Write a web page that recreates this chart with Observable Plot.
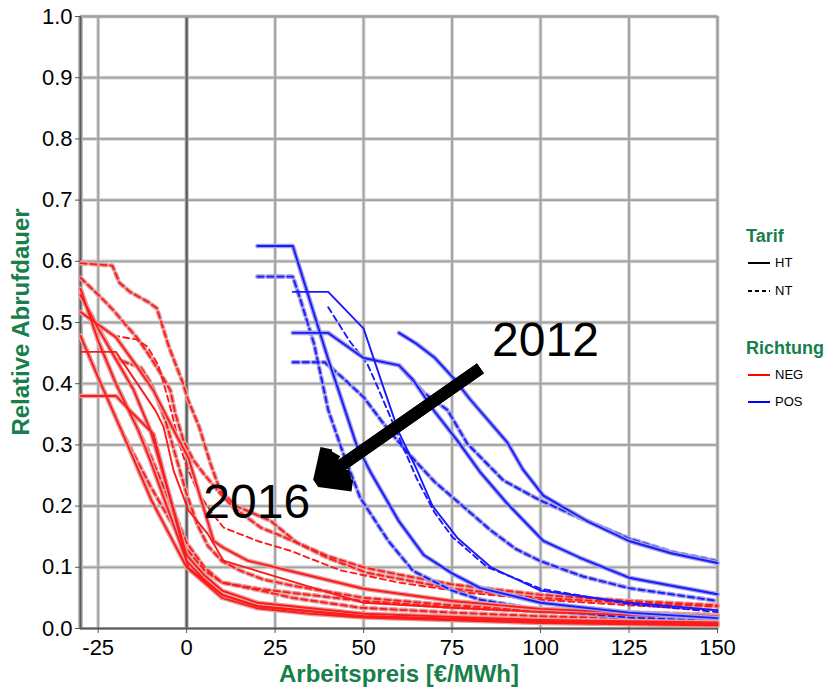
<!DOCTYPE html>
<html><head><meta charset="utf-8">
<script src="https://cdn.jsdelivr.net/npm/d3@7"></script>
<script src="https://cdn.jsdelivr.net/npm/@observablehq/plot@0.6"></script>
<style>
body{margin:0;background:#fff;font-family:"Liberation Sans",Arial,sans-serif;}
#wrap{position:relative;width:829px;height:687px;overflow:hidden;}
.ylab{position:absolute;left:21px;top:322px;transform:translate(-50%,-50%) rotate(-90deg);color:#17804a;font-weight:bold;font-size:24px;white-space:nowrap;}
.xlab{position:absolute;left:399px;top:674px;transform:translate(-50%,-50%);color:#17804a;font-weight:bold;font-size:24px;white-space:nowrap;}
.lg{position:absolute;white-space:nowrap;}
.lgt{color:#17804a;font-weight:bold;font-size:18px;}
.lgi{font-size:13px;color:#000;display:flex;align-items:center;}
.lgi svg{margin-right:5px;}
</style>
</head><body>
<div id="wrap"></div>
<script>
// ---------- tick labels ----------
const xTicks = [-25, 0, 25, 50, 75, 100, 125, 150];
const yTicks = [0, 0.1, 0.2, 0.3, 0.4, 0.5, 0.6, 0.7, 0.8, 0.9, 1.0];

// ---------- POS (blue) series: [Arbeitspreis, relative Abrufdauer] ----------
const posHT_a = [[20,.625],[30,.625],[40,.44],[48,.30],[52,.255],[60,.175],[67,.12],[75,.09],[83,.066],[100,.042],[125,.026],[150,.017]];
const posNT_a = [[20,.575],[30,.575],[32,.54],[36,.465],[40,.357],[44,.29],[49,.214],[57,.143],[64,.094],[75,.062],[83,.047],[100,.03],[125,.018],[150,.012]];
const posHT_b = [[30,.55],[40,.55],[50,.49],[55.6,.394],[60,.32],[65,.26],[69.5,.20],[76.5,.148],[86,.10],[100,.062],[125,.042],[150,.03]];
const posNT_b = [[40,.525],[46,.47],[51,.433],[54,.394],[57.6,.345],[60.4,.307],[65,.245],[70,.19],[75,.15],[85,.10],[100,.065],[125,.04],[150,.027]];
const posHT_c = [[30,.483],[40,.483],[50,.442],[60,.43],[64,.406],[70,.355],[76.5,.307],[83,.255],[90.6,.204],[100.8,.143],[111,.116],[125,.083],[150,.056]];
const posNT_c = [[30,.435],[39,.435],[44,.41],[50,.378],[55.6,.335],[62,.29],[70,.24],[78,.20],[86,.16],[93,.13],[100,.11],[112,.085],[125,.066],[150,.045]];
const posHT_d = [[60,.483],[65,.465],[70,.443],[75.4,.409],[80,.375],[90.6,.304],[95,.26],[100.8,.217],[113,.176],[125,.143],[137,.123],[150,.107]];
const posNT_d = [[60,.43],[62,.417],[67,.385],[73.7,.357],[79.3,.302],[89.5,.242],[100,.209],[111,.181],[125,.147],[137,.125],[150,.11]];

// ---------- NEG (red) series ----------
const negHT_a = [[-30,.478],[-25,.41],[-18.4,.323],[-10,.21],[-5,.155],[0,.10],[5,.075],[10,.05],[20,.033],[35,.024],[50,.018],[100,.009],[150,.005]];
const negHT_b = [[-30,.555],[-25,.47],[-20,.40],[-13.6,.323],[-10,.27],[-5,.19],[0,.11],[5,.08],[10,.055],[20,.036],[50,.02],[100,.012],[150,.008]];
const negHT_c = [[-30,.545],[-25,.49],[-20,.44],[-15,.39],[-10.2,.323],[-5,.22],[0,.12],[5,.087],[10,.062],[20,.042],[50,.024],[100,.014],[150,.01]];
const negHT_d = [[-30,.38],[-20,.38],[-15,.35],[-9.4,.318],[-5,.22],[0.5,.099],[5,.078],[10,.055],[20,.037],[50,.02],[100,.011],[150,.007]];
const negHT_e = [[-30,.452],[-20,.452],[-8.8,.356],[-6.5,.329],[-3.7,.258],[0.5,.193],[5.9,.155],[10.4,.111],[24.5,.086],[50,.042],[75,.034],[100,.027],[150,.017]];
const negHT_f = [[-30,.517],[-20,.476],[-13.9,.427],[-9.4,.389],[-2.6,.312],[0.5,.279],[7.6,.143],[10.4,.132],[17.2,.111],[29.3,.094],[50,.065],[75,.045],[100,.032],[150,.02]];
const negNT_a = [[-30,.597],[-21,.593],[-19,.565],[-16,.55],[-11,.534],[-8.4,.523],[-5,.46],[-1,.40],[0.3,.375],[3.5,.33],[6.7,.27],[9.5,.225],[14,.2],[23.7,.176],[31.2,.14],[40,.115],[51,.091],[75,.065],[100,.05],[125,.042],[150,.036]];
const negNT_b = [[-30,.573],[-24.4,.542],[-20.7,.52],[-17.8,.50],[-14,.475],[-11,.45],[-7.4,.417],[-4.6,.389],[-3.2,.351],[-0.9,.307],[1.9,.275],[4.8,.253],[9.6,.22],[13.2,.198],[20.9,.165],[29.3,.145],[40,.118],[50,.10],[60,.088],[75,.072],[100,.055],[125,.045],[150,.038]];
const negNT_c = [[-30,.517],[-20,.478],[-14,.472],[-11,.46],[-8,.43],[-5,.37],[-2,.30],[0,.265],[3,.225],[7,.19],[10.4,.165],[20,.143],[29.3,.127],[43.5,.095],[60,.075],[80,.058],[100,.047],[125,.038],[150,.03]];
const negNT_d = [[-30,.545],[-20,.44],[-13,.427],[-10,.40],[-6,.34],[-3,.28],[0,.22],[3,.17],[6,.135],[10,.11],[15,.095],[21.7,.08],[30,.07],[50,.05],[75,.038],[100,.03],[125,.026],[150,.022]];
const negNT_e = [[-30,.555],[-25,.47],[-20,.40],[-13.6,.323],[-10,.28],[-5,.21],[0,.14],[5,.10],[10,.075],[21.7,.061],[30,.05],[49,.034],[75,.026],[100,.02],[150,.013]];
const negNT_f = [[-30,.478],[-25,.41],[-18.4,.323],[-10,.23],[-5,.18],[0,.13],[5,.095],[10,.075],[20,.065],[30,.058],[50,.045],[75,.035],[100,.028],[150,.022]];

// ---------- annotations ----------
const annotLabels = ["2012", "2016"];
const annotX = [101.4, 19.8];
const annotY = [0.471, 0.206];
const arrowFrom = [83.0, 0.425];
const arrowTo = [37.4, 0.241];

// ---------- build table ----------
const seriesList = [
  ["posHT_a", "HT", "POS", posHT_a, true], ["posNT_a", "NT", "POS", posNT_a, true],
  ["posHT_b", "HT", "POS", posHT_b, false], ["posNT_b", "NT", "POS", posNT_b, false],
  ["posHT_c", "HT", "POS", posHT_c, true], ["posNT_c", "NT", "POS", posNT_c, true],
  ["posHT_d", "HT", "POS", posHT_d, true], ["posNT_d", "NT", "POS", posNT_d, true],
  ["negHT_a", "HT", "NEG", negHT_a, true], ["negHT_b", "HT", "NEG", negHT_b, true],
  ["negHT_c", "HT", "NEG", negHT_c, true], ["negHT_d", "HT", "NEG", negHT_d, true],
  ["negHT_e", "HT", "NEG", negHT_e, false], ["negHT_f", "HT", "NEG", negHT_f, true],
  ["negNT_a", "NT", "NEG", negNT_a, true], ["negNT_b", "NT", "NEG", negNT_b, true],
  ["negNT_c", "NT", "NEG", negNT_c, false], ["negNT_d", "NT", "NEG", negNT_d, true],
  ["negNT_e", "NT", "NEG", negNT_e, true], ["negNT_f", "NT", "NEG", negNT_f, true]
];
const rows = seriesList.flatMap(([id, tarif, richtung, pts, halo]) =>
  pts.map(([x, y]) => ({id, tarif, richtung, halo, x, y})));

const COL = {NEG: "#ff1a1a", POS: "#1a1aff"};
const HALO = {NEG: "#e3a0a0", POS: "#a0a0e3"};
const DASH = {HT: null, NT: "6,4"};

const lineMarks = [];
for (const tarif of ["NT", "HT"]) {
  for (const richtung of ["NEG", "POS"]) {
    const sub = rows.filter(r => r.tarif === tarif && r.richtung === richtung);
    const haloSub = sub.filter(r => r.halo);
    lineMarks.push(Plot.line(haloSub, {x: "x", y: "y", z: "id", stroke: HALO[richtung], strokeWidth: 4.6, strokeDasharray: DASH[tarif], strokeLinejoin: "round"}));
    lineMarks.push(Plot.line(sub, {x: "x", y: "y", z: "id", stroke: COL[richtung], strokeWidth: 1.9, strokeDasharray: DASH[tarif], strokeLinejoin: "round"}));
  }
}

const gridX = xTicks.filter(d => d !== 0);
const gridY = yTicks.filter(d => d > 0);
const annot = annotLabels.map((t, i) => ({t, x: annotX[i], y: annotY[i]}));
const arrowRow = [{x1: arrowFrom[0], y1: arrowFrom[1], x2: arrowTo[0], y2: arrowTo[1]}];
const arrowOpts = {x1: "x1", y1: "y1", x2: "x2", y2: "y2", stroke: "#000", strokeLinecap: "butt", strokeLinejoin: "miter"};

const chart = Plot.plot({
  width: 829, height: 687,
  marginLeft: 80, marginRight: 112, marginTop: 16, marginBottom: 59,
  x: {domain: [-30, 150]},
  y: {domain: [0, 1]},
  style: {fontFamily: "'Liberation Sans', Arial, sans-serif", fontSize: "22px", color: "#000", background: "#fff"},
  marks: [
    Plot.ruleX(gridX, {stroke: "#dcdcdc", strokeWidth: 4}),
    Plot.ruleY(gridY, {stroke: "#dcdcdc", strokeWidth: 4}),
    Plot.ruleX(gridX, {stroke: "#a0a0a0", strokeWidth: 1.8}),
    Plot.ruleY(gridY, {stroke: "#a0a0a0", strokeWidth: 1.8}),
    Plot.ruleX([0], {stroke: "#b0b0b0", strokeWidth: 4}),
    Plot.ruleX([0], {stroke: "#5a5a5a", strokeWidth: 2}),
    Plot.frame({stroke: "#a0a0a0", strokeWidth: 2}),
    Plot.ruleX([-30], {stroke: "#bdbdbd", strokeWidth: 5}),
    Plot.ruleX([-30], {stroke: "#5a5a5a", strokeWidth: 2}),
    Plot.ruleY([0], {stroke: "#5a5a5a", strokeWidth: 2}),
    ...lineMarks,
    Plot.arrow(arrowRow, {...arrowOpts, strokeWidth: 12, headLength: 4.2, headAngle: 85}),
    Plot.arrow(arrowRow, {...arrowOpts, strokeWidth: 12, headLength: 4.0, headAngle: 50}),
    Plot.arrow(arrowRow, {...arrowOpts, strokeWidth: 12, headLength: 3.6, headAngle: 25}),
    Plot.text(annot, {x: "x", y: "y", text: "t", fontSize: 48, fill: "#000", textAnchor: "middle", lineAnchor: "middle"}),
    Plot.axisY({ticks: yTicks, tickFormat: d => d.toFixed(1), tickSize: 5, tickPadding: 3, label: null, fontSize: 22, stroke: "#555"}),
    Plot.axisX({ticks: xTicks, tickFormat: d => String(d), tickSize: 5, tickPadding: 6, label: null, fontSize: 22, stroke: "#555"})
  ]
});

const wrap = document.getElementById("wrap");
wrap.appendChild(chart);

function addDiv(cls, html, left, top) {
  const d = document.createElement("div");
  d.className = cls; d.innerHTML = html;
  if (left != null) { d.style.left = left + "px"; d.style.top = top + "px"; }
  wrap.appendChild(d); return d;
}
addDiv("ylab", "Relative Abrufdauer");
addDiv("xlab", "Arbeitspreis [€/MWh]");

const swatch = (color, dash) => `<svg width="22" height="6"><line x1="0" x2="22" y1="3" y2="3" stroke="${color}" stroke-width="2" ${dash ? `stroke-dasharray="${dash}"` : ""}/></svg>`;
const legendTitles = ["Tarif", "Richtung"];
const legendTarif = ["HT", "NT"];
const legendRichtung = ["NEG", "POS"];
addDiv("lg lgt", legendTitles[0], 746, 226);
addDiv("lg lgi", swatch("#000", null) + legendTarif[0], 748, 255);
addDiv("lg lgi", swatch("#000", "4,3") + legendTarif[1], 748, 283);
addDiv("lg lgt", legendTitles[1], 746, 338);
addDiv("lg lgi", swatch("#ff0000", null) + legendRichtung[0], 748, 367);
addDiv("lg lgi", swatch("#0000ff", null) + legendRichtung[1], 748, 394);
</script>
</body></html>
